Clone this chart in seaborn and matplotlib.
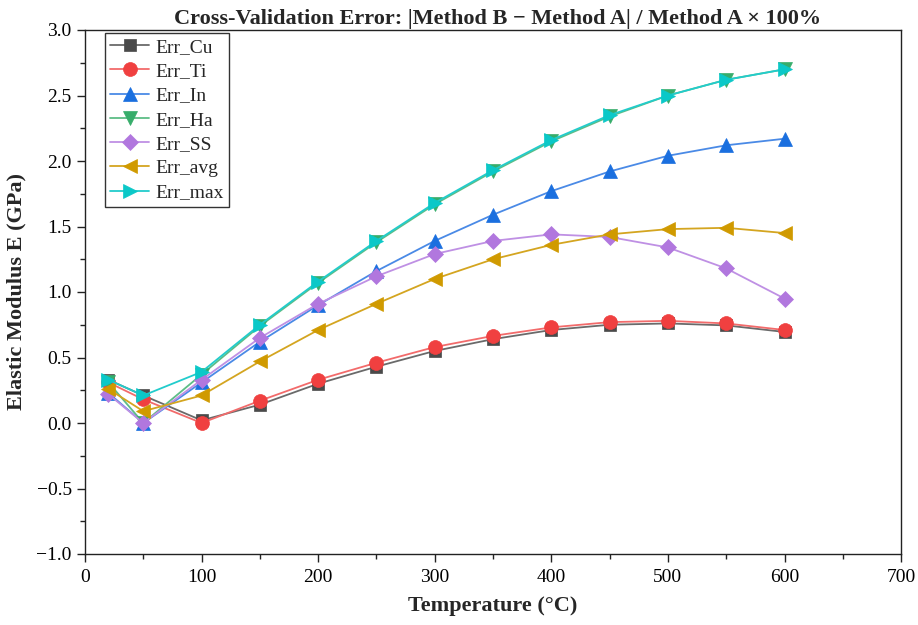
import matplotlib
matplotlib.use("Agg")
import matplotlib.pyplot as plt
from matplotlib.ticker import MultipleLocator
import seaborn as sns
import pandas as pd

temperature = [20, 50, 100, 150, 200, 250, 300, 350, 400, 450, 500, 550, 600]

err_cu = [0.33, 0.21, 0.02, 0.14, 0.30, 0.43, 0.55, 0.64, 0.71, 0.75, 0.76, 0.745, 0.695]
err_ti = [0.31, 0.18, 0.00, 0.17, 0.33, 0.46, 0.58, 0.665, 0.73, 0.77, 0.78, 0.76, 0.71]
err_in = [0.23, 0.00, 0.31, 0.62, 0.90, 1.16, 1.39, 1.59, 1.77, 1.92, 2.04, 2.12, 2.17]
err_ha = [0.31, 0.00, 0.37, 0.74, 1.07, 1.38, 1.67, 1.92, 2.15, 2.34, 2.50, 2.62, 2.70]
err_ss = [0.22, 0.00, 0.33, 0.65, 0.91, 1.12, 1.29, 1.39, 1.44, 1.42, 1.34, 1.18, 0.95]
err_avg = [0.26, 0.09, 0.21, 0.47, 0.71, 0.91, 1.10, 1.25, 1.36, 1.44, 1.48, 1.49, 1.45]
err_max = [0.33, 0.21, 0.39, 0.75, 1.08, 1.39, 1.68, 1.93, 2.16, 2.35, 2.50, 2.62, 2.70]

series_names = ["Err_Cu", "Err_Ti", "Err_In", "Err_Ha", "Err_SS", "Err_avg", "Err_max"]
series_values = [err_cu, err_ti, err_in, err_ha, err_ss, err_avg, err_max]

marker_styles = ["s", "o", "^", "v", "D", "<", ">"]
marker_colors = ["#4a4a4a", "#f04040", "#1a6fdf", "#37ad6b", "#b177de", "#d09a00", "#0bc8c8"]
line_colors = ["#6a6a6a", "#f26b6b", "#4a8ae6", "#5dbd86", "#bf90e4", "#d4a520", "#22cccc"]
marker_sizes = [8.5, 10, 9.5, 9.5, 8, 10, 10]

sns.set_theme(style="ticks")
plt.rcParams["font.family"] = ["Liberation Serif", "DejaVu Serif"]

fig = plt.figure(figsize=(9.18, 6.25), dpi=100)
ax = fig.add_axes([0.0926, 0.1136, 0.889, 0.8384])

for name, vals, mk, mc, lc, ms in zip(series_names, series_values, marker_styles,
                                      marker_colors, line_colors, marker_sizes):
    df = pd.DataFrame({"Temperature": temperature, "Err": vals})
    sns.lineplot(data=df, x="Temperature", y="Err", ax=ax, label=name,
                 color=lc, linewidth=1.3, marker=mk, markersize=ms,
                 markerfacecolor=mc, markeredgecolor=mc, markeredgewidth=0.5)

ax.set_xlim(0, 700)
ax.set_ylim(-1.0, 3.0)
ax.xaxis.set_major_locator(MultipleLocator(100))
ax.xaxis.set_minor_locator(MultipleLocator(50))
ax.yaxis.set_major_locator(MultipleLocator(0.5))
ax.yaxis.set_minor_locator(MultipleLocator(0.25))
ax.yaxis.set_major_formatter(matplotlib.ticker.FuncFormatter(
    lambda v, p: f"{v:.1f}".replace("-", "\u2212")))

for side in ["top", "right", "left", "bottom"]:
    ax.spines[side].set_visible(True)
    ax.spines[side].set_color("#222222")
    ax.spines[side].set_linewidth(1.0)

ax.tick_params(axis="both", which="major", direction="out", length=6, width=1,
               labelsize=14, colors="#222222", labelcolor="black")
ax.tick_params(axis="x", which="major", pad=5)
ax.tick_params(axis="both", which="minor", direction="out", length=3.5, width=1,
               colors="#222222")

ax.set_xlabel("Temperature (°C)", fontsize=16, fontweight="bold", labelpad=7)
ax.set_ylabel("Elastic Modulus E (GPa)", fontsize=16, fontweight="bold", labelpad=7)
ax.set_title("Cross-Validation Error: |Method B \u2212 Method A| / Method A \u00d7 100%",
             fontsize=16, fontweight="bold", pad=4, x=0.505)

leg = ax.legend(loc="upper left", bbox_to_anchor=(0.024, 0.995), fontsize=14,
                frameon=True, fancybox=False, edgecolor="black",
                handlelength=2.0, handletextpad=0.3, borderpad=0.3,
                labelspacing=0.34, borderaxespad=0.0)
leg.get_frame().set_linewidth(1.0)

fig.savefig("out.png", dpi=100)
